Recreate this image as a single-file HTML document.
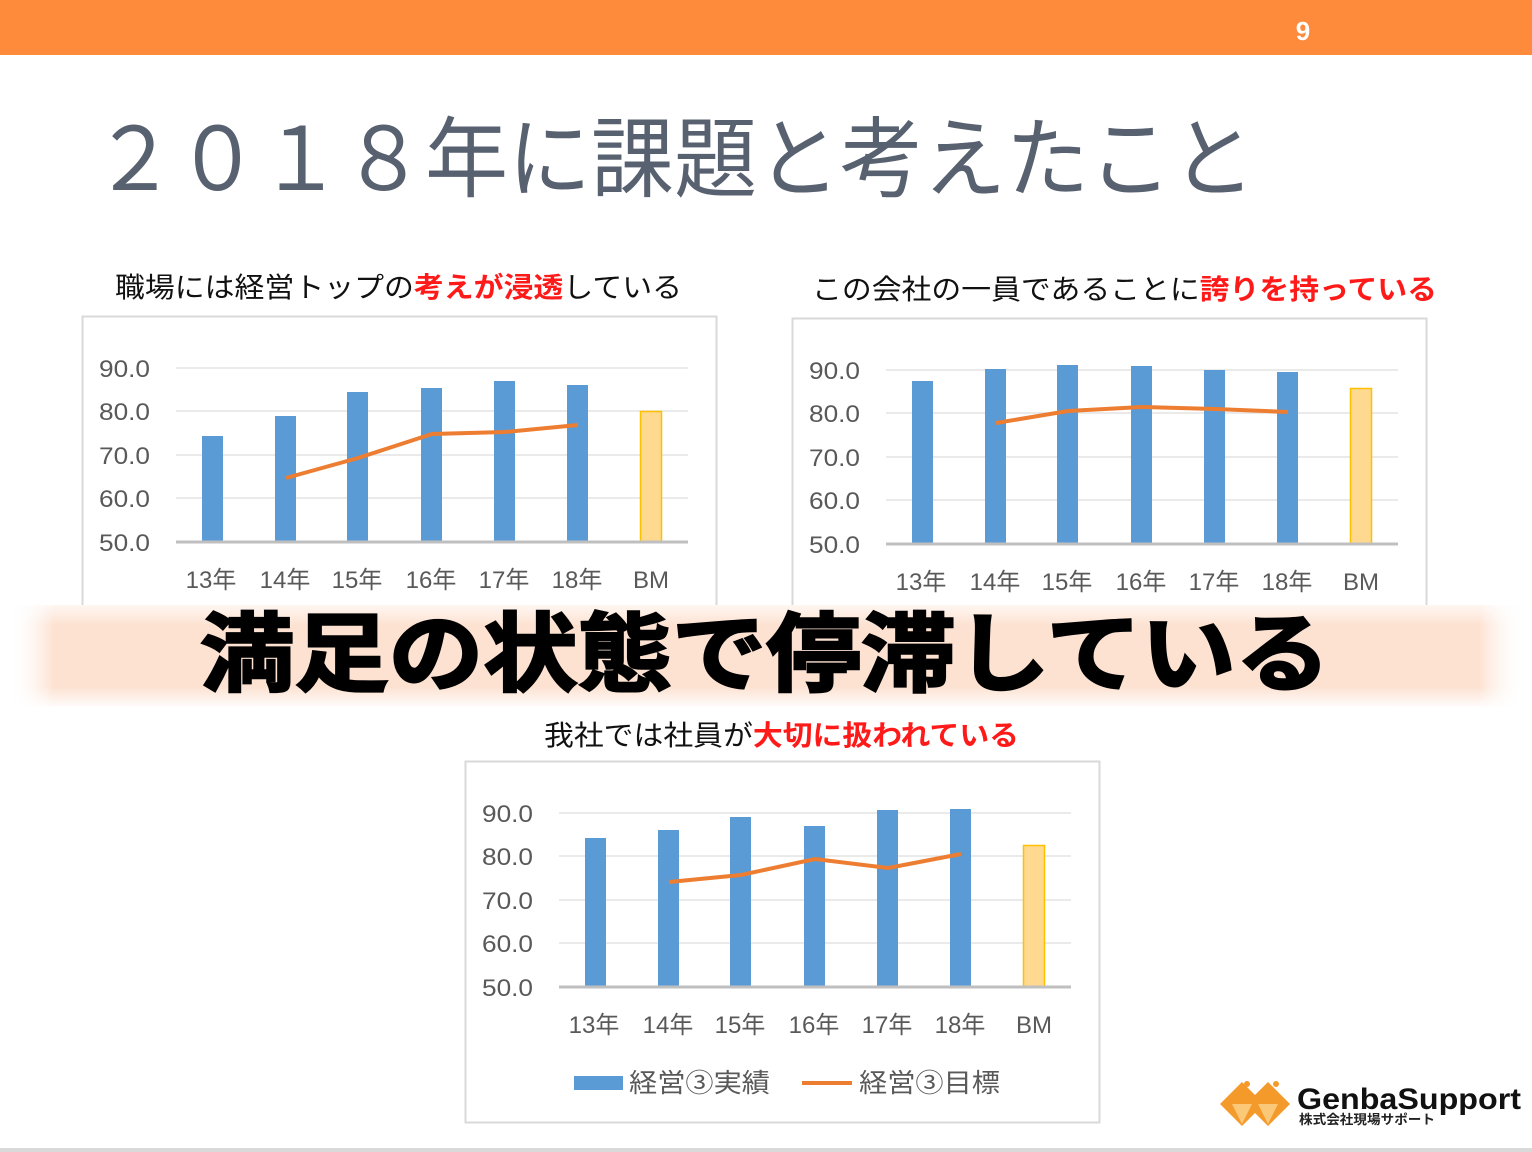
<!DOCTYPE html>
<html><head><meta charset="utf-8"><style>
html,body{margin:0;padding:0;background:#fff;}
svg{display:block;font-family:"Liberation Sans","Noto Sans CJK JP",sans-serif;}
</style></head><body>
<svg width="1532" height="1152" viewBox="0 0 1532 1152" xmlns="http://www.w3.org/2000/svg">
<defs>
<linearGradient id="bh" x1="0" x2="1" y1="0" y2="0">
<stop offset="0" stop-color="#fff" stop-opacity="0"/><stop offset="0.03" stop-color="#fde2d2"/><stop offset="0.97" stop-color="#fde2d2"/><stop offset="1" stop-color="#fff" stop-opacity="0"/></linearGradient>
<linearGradient id="bv" x1="0" x2="0" y1="0" y2="1">
<stop offset="0" stop-color="#fff" stop-opacity="0.7"/><stop offset="0.2" stop-color="#fff" stop-opacity="0"/><stop offset="0.8" stop-color="#fff" stop-opacity="0"/><stop offset="1" stop-color="#fff" stop-opacity="0.9"/></linearGradient>
</defs>
<rect x="0" y="0" width="1532" height="55" fill="#fe8a3b"/>
<text x="1303" y="40" font-size="26" font-weight="bold" fill="#fff" text-anchor="middle">9</text>
<text x="93" y="190" font-size="88" fill="#586170" textLength="1162" lengthAdjust="spacingAndGlyphs">２０１８年に課題と考えたこと</text>

<text x="115" y="297" font-size="28" fill="#111" textLength="567" lengthAdjust="spacingAndGlyphs">職場には経営トップの<tspan fill="#ff1a1a" font-weight="bold">考えが浸透</tspan>している</text>
<text x="812" y="299" font-size="28" fill="#111" textLength="625" lengthAdjust="spacingAndGlyphs">この会社の一員であることに<tspan fill="#ff1a1a" font-weight="bold">誇りを持っている</tspan></text>
<text x="544" y="745" font-size="28" fill="#111" textLength="475" lengthAdjust="spacingAndGlyphs">我社では社員が<tspan fill="#ff1a1a" font-weight="bold">大切に扱われている</tspan></text>

<!-- chart 1 -->
<g>
<rect x="82.5" y="316.5" width="634" height="320" fill="#fff" stroke="#d9d9d9" stroke-width="2"/>
<g stroke="#e3e3e3" stroke-width="1.5"><line x1="176" x2="688" y1="368" y2="368"/><line x1="176" x2="688" y1="411" y2="411"/><line x1="176" x2="688" y1="455" y2="455"/><line x1="176" x2="688" y1="498" y2="498"/></g>
<g font-size="24" fill="#595959"><text x="99" y="377" textLength="51" lengthAdjust="spacingAndGlyphs">90.0</text><text x="99" y="420" textLength="51" lengthAdjust="spacingAndGlyphs">80.0</text><text x="99" y="464" textLength="51" lengthAdjust="spacingAndGlyphs">70.0</text><text x="99" y="507" textLength="51" lengthAdjust="spacingAndGlyphs">60.0</text><text x="99" y="551" textLength="51" lengthAdjust="spacingAndGlyphs">50.0</text></g>
<g fill="#5b9bd5"><rect x="202" y="436" width="21" height="106"/><rect x="275" y="416" width="21" height="126"/><rect x="347" y="392" width="21" height="150"/><rect x="421" y="388" width="21" height="154"/><rect x="494" y="381" width="21" height="161"/><rect x="567" y="385" width="21" height="157"/></g>
<rect x="640.5" y="411.5" width="21" height="130" fill="#ffd98f" stroke="#ffc000" stroke-width="1.5"/>
<line x1="176" x2="688" y1="542" y2="542" stroke="#bfbfbf" stroke-width="3"/>
<polyline points="286,478 358,458 432,434 505,432 578,425" fill="none" stroke="#ed7d31" stroke-width="4"/>
<g font-size="24" fill="#595959" text-anchor="middle"><text x="211" y="588">13年</text><text x="285" y="588">14年</text><text x="357" y="588">15年</text><text x="431" y="588">16年</text><text x="504" y="588">17年</text><text x="577" y="588">18年</text><text x="651" y="588">BM</text></g>
</g>

<!-- chart 2 -->
<g>
<rect x="792.5" y="318.5" width="634" height="320" fill="#fff" stroke="#d9d9d9" stroke-width="2"/>
<g stroke="#e3e3e3" stroke-width="1.5"><line x1="886" x2="1398" y1="370" y2="370"/><line x1="886" x2="1398" y1="413" y2="413"/><line x1="886" x2="1398" y1="457" y2="457"/><line x1="886" x2="1398" y1="500" y2="500"/></g>
<g font-size="24" fill="#595959"><text x="809" y="379" textLength="51" lengthAdjust="spacingAndGlyphs">90.0</text><text x="809" y="422" textLength="51" lengthAdjust="spacingAndGlyphs">80.0</text><text x="809" y="466" textLength="51" lengthAdjust="spacingAndGlyphs">70.0</text><text x="809" y="509" textLength="51" lengthAdjust="spacingAndGlyphs">60.0</text><text x="809" y="553" textLength="51" lengthAdjust="spacingAndGlyphs">50.0</text></g>
<g fill="#5b9bd5"><rect x="912" y="381" width="21" height="163"/><rect x="985" y="369" width="21" height="175"/><rect x="1057" y="365" width="21" height="179"/><rect x="1131" y="366" width="21" height="178"/><rect x="1204" y="370" width="21" height="174"/><rect x="1277" y="372" width="21" height="172"/></g>
<rect x="1350.5" y="388.5" width="21" height="155" fill="#ffd98f" stroke="#ffc000" stroke-width="1.5"/>
<line x1="886" x2="1398" y1="544" y2="544" stroke="#bfbfbf" stroke-width="3"/>
<polyline points="996,423 1068,411 1142,407 1215,409 1288,412" fill="none" stroke="#ed7d31" stroke-width="4"/>
<g font-size="24" fill="#595959" text-anchor="middle"><text x="921" y="590">13年</text><text x="995" y="590">14年</text><text x="1067" y="590">15年</text><text x="1141" y="590">16年</text><text x="1214" y="590">17年</text><text x="1287" y="590">18年</text><text x="1361" y="590">BM</text></g>
</g>

<!-- banner -->
<rect x="8" y="605" width="1517" height="102" fill="url(#bh)"/>
<rect x="8" y="605" width="1517" height="102" fill="url(#bv)"/>
<text x="200" y="684" font-size="86" font-weight="bold" fill="#000" stroke="#000" stroke-width="2.5" textLength="1130" lengthAdjust="spacingAndGlyphs">満足の状態で停滞している</text>

<!-- chart 3 -->
<g>
<rect x="465.5" y="761.5" width="634" height="361" fill="#fff" stroke="#d9d9d9" stroke-width="2"/>
<g stroke="#e3e3e3" stroke-width="1.5"><line x1="559" x2="1071" y1="813" y2="813"/><line x1="559" x2="1071" y1="856" y2="856"/><line x1="559" x2="1071" y1="900" y2="900"/><line x1="559" x2="1071" y1="943" y2="943"/></g>
<g font-size="24" fill="#595959"><text x="482" y="822" textLength="51" lengthAdjust="spacingAndGlyphs">90.0</text><text x="482" y="865" textLength="51" lengthAdjust="spacingAndGlyphs">80.0</text><text x="482" y="909" textLength="51" lengthAdjust="spacingAndGlyphs">70.0</text><text x="482" y="952" textLength="51" lengthAdjust="spacingAndGlyphs">60.0</text><text x="482" y="996" textLength="51" lengthAdjust="spacingAndGlyphs">50.0</text></g>
<g fill="#5b9bd5"><rect x="585" y="838" width="21" height="149"/><rect x="658" y="830" width="21" height="157"/><rect x="730" y="817" width="21" height="170"/><rect x="804" y="826" width="21" height="161"/><rect x="877" y="810" width="21" height="177"/><rect x="950" y="809" width="21" height="178"/></g>
<rect x="1023.5" y="845.5" width="21" height="141" fill="#ffd98f" stroke="#ffc000" stroke-width="1.5"/>
<line x1="559" x2="1071" y1="987" y2="987" stroke="#bfbfbf" stroke-width="3"/>
<polyline points="669,882 741,875 815,859 888,868 961,854" fill="none" stroke="#ed7d31" stroke-width="4"/>
<g font-size="24" fill="#595959" text-anchor="middle"><text x="594" y="1033">13年</text><text x="668" y="1033">14年</text><text x="740" y="1033">15年</text><text x="814" y="1033">16年</text><text x="887" y="1033">17年</text><text x="960" y="1033">18年</text><text x="1034" y="1033">BM</text></g>
<rect x="574" y="1076" width="49" height="14" fill="#5b9bd5"/>
<text x="629" y="1092" font-size="26" fill="#595959" textLength="141" lengthAdjust="spacingAndGlyphs">経営③実績</text>
<line x1="802" x2="852" y1="1083" y2="1083" stroke="#ed7d31" stroke-width="4"/>
<text x="859" y="1092" font-size="26" fill="#595959" textLength="141" lengthAdjust="spacingAndGlyphs">経営③目標</text>
</g>

<!-- logo -->
<g>
<polygon points="1242,1082 1264,1104 1242,1126 1220,1104" fill="#f49a2a"/>
<polygon points="1268,1082 1290,1104 1268,1126 1246,1104" fill="#f49a2a"/>
<polygon points="1232,1104 1252,1104 1242,1124" fill="#fbc878"/>
<polygon points="1258,1104 1278,1104 1268,1124" fill="#fbc878"/>
<circle cx="1247" cy="1084" r="3" fill="#f49a2a"/><circle cx="1276" cy="1084" r="3" fill="#f49a2a"/>
<text x="1297" y="1109" font-size="30" font-weight="bold" fill="#111" textLength="224" lengthAdjust="spacingAndGlyphs">GenbaSupport</text>
<text x="1299" y="1124" font-size="13" font-weight="bold" fill="#222" textLength="136" lengthAdjust="spacingAndGlyphs">株式会社現場サポート</text>
</g>
<rect x="0" y="1148" width="1532" height="4" fill="#d9d9d9"/>
</svg>
</body></html>
